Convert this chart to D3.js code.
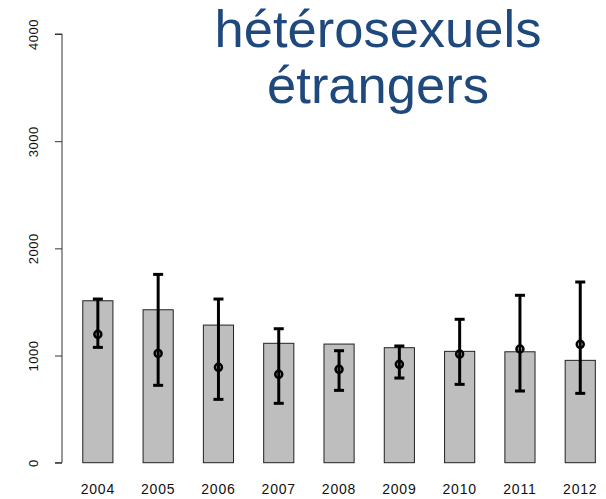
<!DOCTYPE html>
<html>
<head>
<meta charset="utf-8">
<script src="https://cdn.jsdelivr.net/npm/d3@7"></script>
<style>
body { margin: 0; background: #fff; }
</style>
</head>
<body>
<div id="vis"></div>
<script>
// data
var years = ["2004","2005","2006","2007","2008","2009","2010","2011","2012"];
var barValues = [1511, 1427, 1284, 1114, 1107, 1073, 1039, 1035, 955];
var pointValues = [1198, 1020, 890, 825, 871, 918, 1014, 1061, 1105];
var lowValues = [1076, 722, 591, 554, 675, 790, 731, 669, 647];
var highValues = [1527, 1757, 1527, 1250, 1045, 1089, 1338, 1562, 1686];
var yTicks = [0, 1000, 2000, 3000, 4000];
var titleLines = ["hétérosexuels", "étrangers"];

var data = years.map((y, i) => ({year: y, bar: barValues[i], pt: pointValues[i], lo: lowValues[i], hi: highValues[i]}));

var w = 606, h = 499;

var svg = d3.select("#vis")
  .append("svg")
  .attr("width", w)
  .attr("height", h)
  .style("font-family", "'Liberation Sans', Arial, sans-serif");

var yScale = d3.scaleLinear().domain([0, 4000]).range([462.7, 34]);

// band scale: step 60.3, bar width 30
var xScale = d3.scaleBand()
  .domain(years)
  .range([67.7, 67.7 + 60.3 * years.length])
  .paddingInner(0.5)
  .paddingOuter(0.25);

// y axis
var yAxis = svg.append("g")
  .attr("transform", "translate(62,0)")
  .call(d3.axisLeft(yScale).tickValues(yTicks).tickSize(7).tickPadding(12).tickFormat(d3.format("d")));
yAxis.select(".domain").attr("stroke", "#333").attr("d", `M-7,${yScale(0)}H0V${yScale(4000)}H-7`);
yAxis.selectAll(".tick line").attr("stroke", "#333");
yAxis.selectAll(".tick text")
  .attr("font-size", 13)
  .attr("letter-spacing", 0.5)
  .attr("fill", "#111")
  .attr("text-anchor", "middle")
  .attr("x", 0)
  .attr("dy", 0)
  .attr("transform", "translate(-24,0) rotate(-90)");

// x labels
svg.append("g").selectAll("text")
  .data(years)
  .enter()
  .append("text")
  .attr("x", d => xScale(d) + xScale.bandwidth() / 2)
  .attr("y", 494)
  .attr("text-anchor", "middle")
  .attr("font-size", 14)
  .attr("letter-spacing", 0.8)
  .attr("fill", "#111")
  .text(d => d);

// bars
svg.append("g").selectAll("rect")
  .data(data)
  .enter()
  .append("rect")
  .attr("x", d => xScale(d.year))
  .attr("y", d => yScale(d.bar))
  .attr("width", xScale.bandwidth())
  .attr("height", d => yScale(0) - yScale(d.bar))
  .attr("fill", "#bebebe")
  .attr("stroke", "#222")
  .attr("stroke-width", 1);

// error bars
var eb = svg.append("g").attr("stroke", "#000").attr("stroke-width", 3).attr("fill", "none");
data.forEach(d => {
  var cx = xScale(d.year) + xScale.bandwidth() / 2;
  eb.append("line").attr("x1", cx).attr("x2", cx).attr("y1", yScale(d.lo)).attr("y2", yScale(d.hi));
  eb.append("line").attr("x1", cx - 5).attr("x2", cx + 5).attr("y1", yScale(d.lo)).attr("y2", yScale(d.lo));
  eb.append("line").attr("x1", cx - 5).attr("x2", cx + 5).attr("y1", yScale(d.hi)).attr("y2", yScale(d.hi));
  eb.append("circle").attr("cx", cx).attr("cy", yScale(d.pt)).attr("r", 3.5).attr("stroke-width", 2.5);
});

// title
svg.append("g").selectAll("text")
  .data(titleLines)
  .enter()
  .append("text")
  .attr("x", 378)
  .attr("y", (d, i) => 47 + i * 56)
  .attr("text-anchor", "middle")
  .attr("font-size", 52.5)
  .attr("fill", "#1F497D")
  .text(d => d);
</script>
</body>
</html>
